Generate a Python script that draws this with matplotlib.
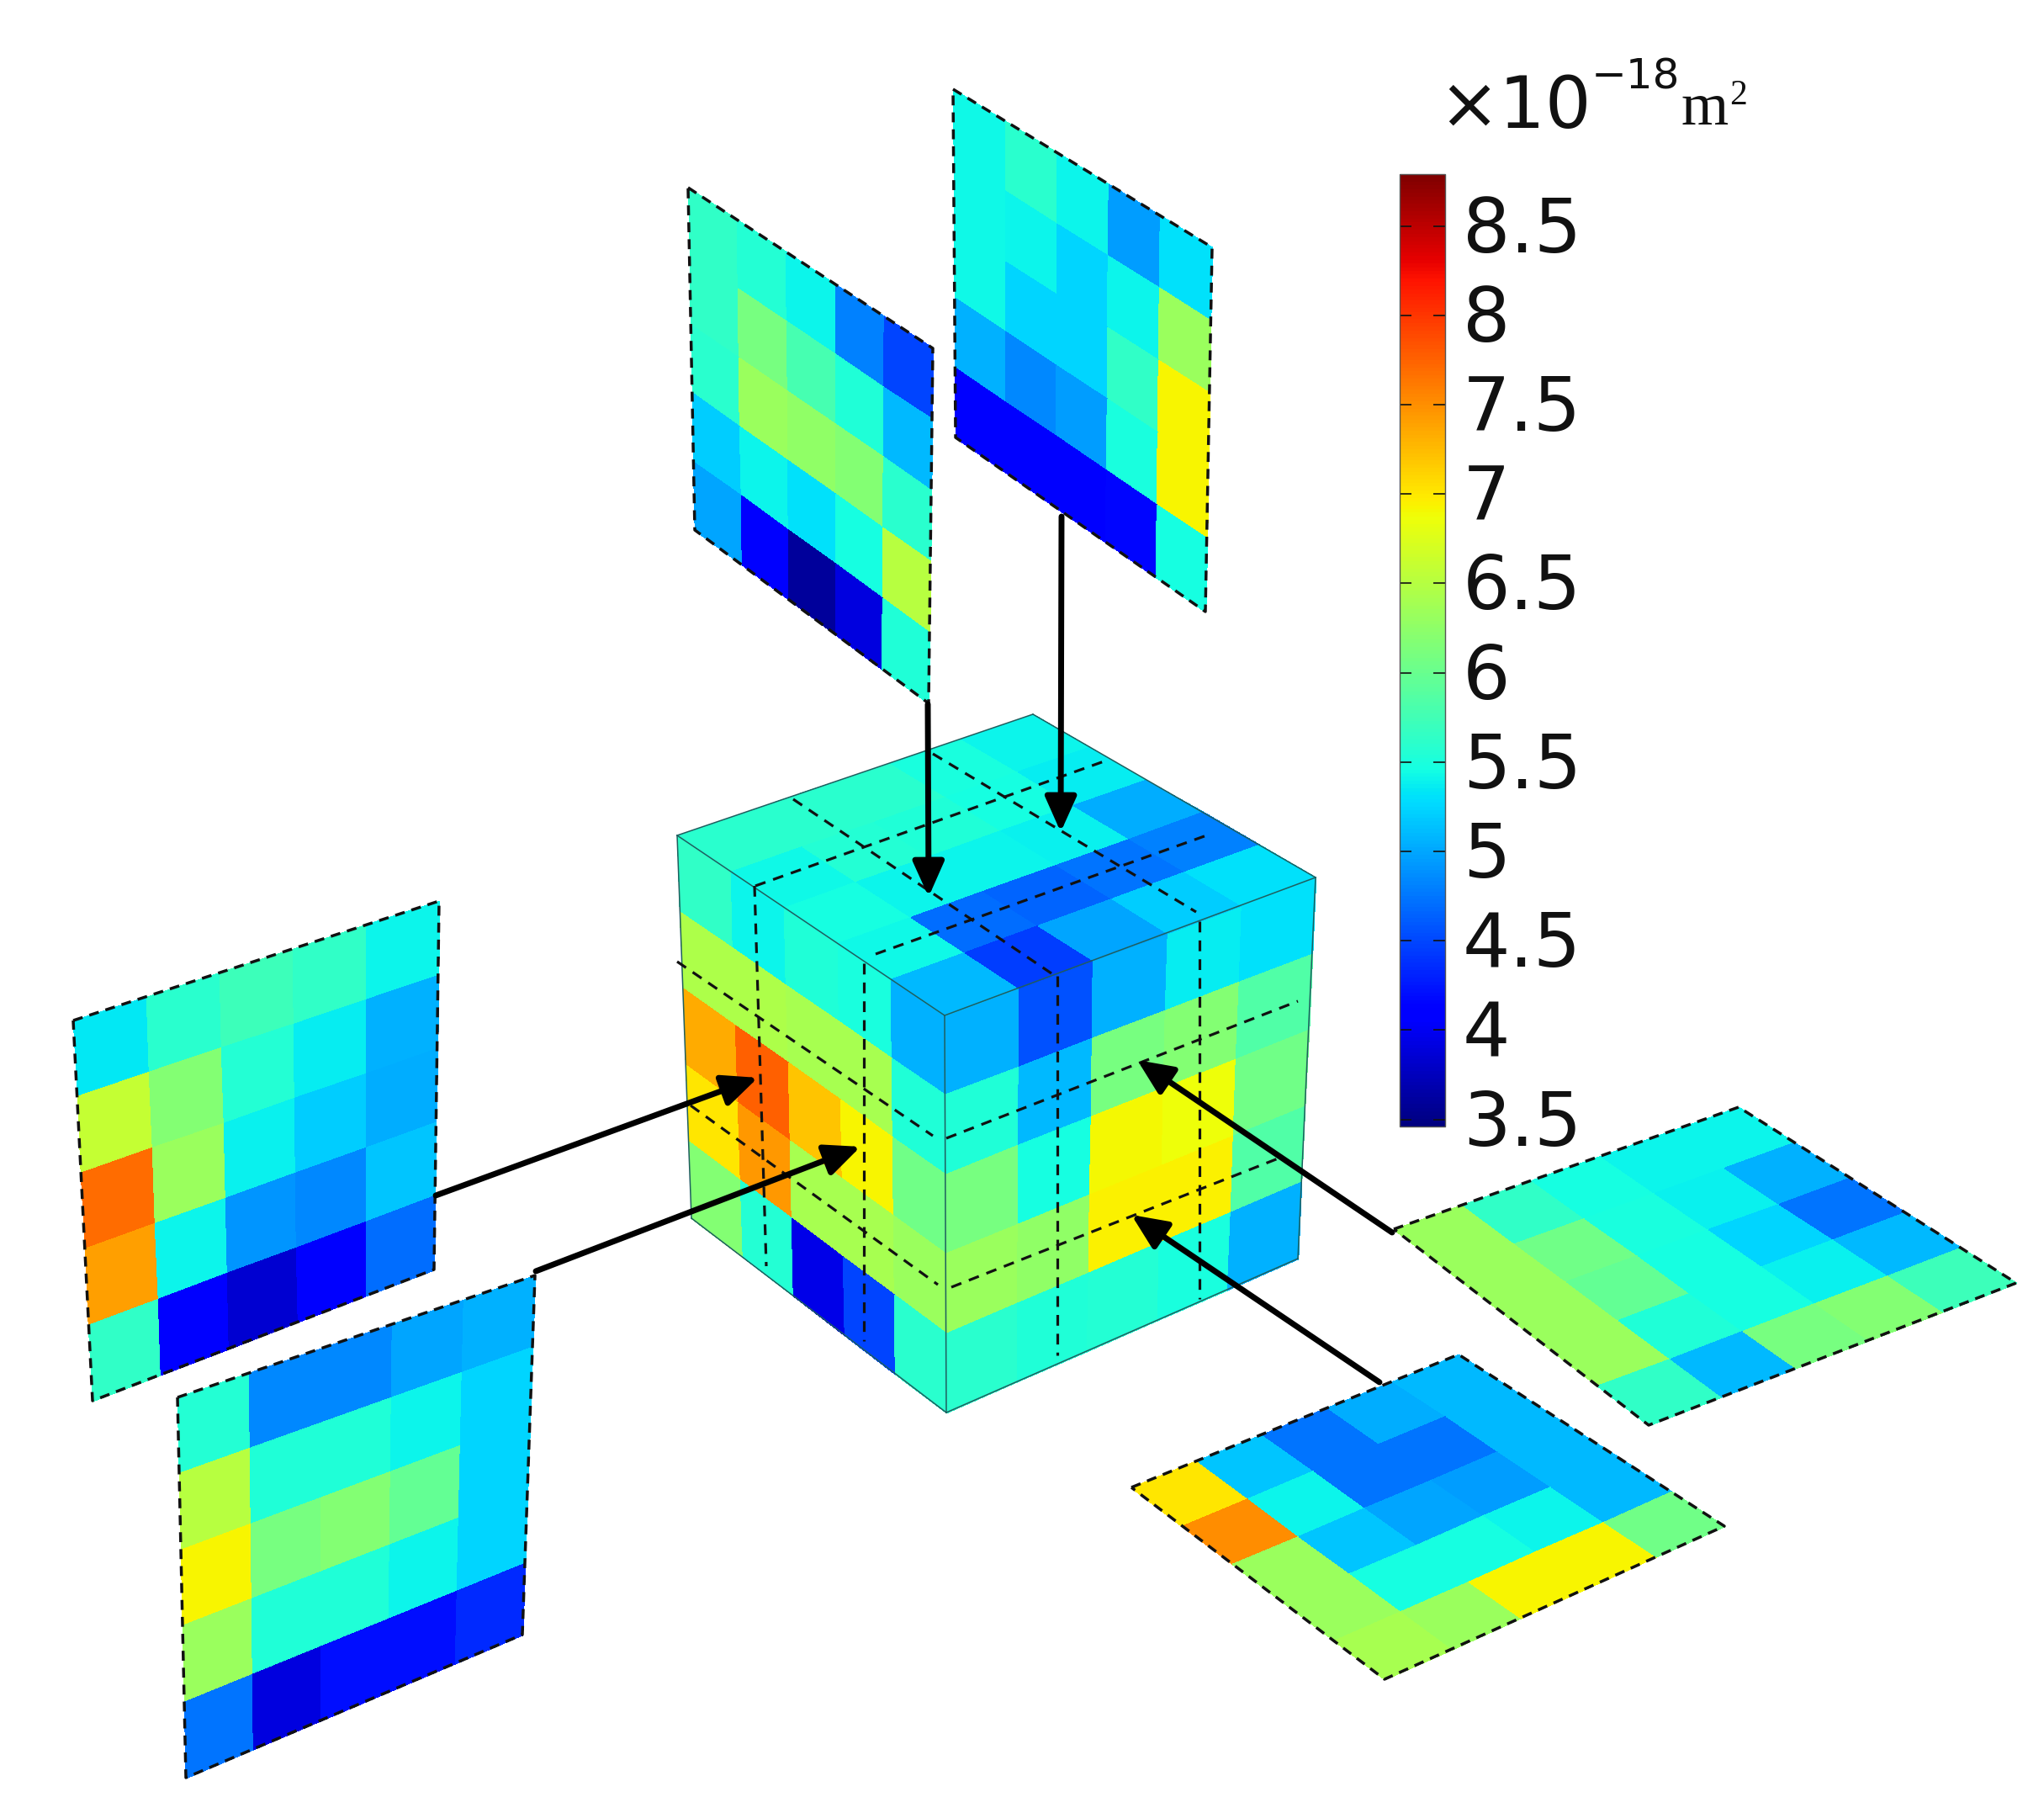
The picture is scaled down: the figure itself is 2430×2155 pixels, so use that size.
import numpy as np
import matplotlib
matplotlib.use("Agg")
import matplotlib.pyplot as plt
from matplotlib.colors import Normalize
from matplotlib.ticker import FormatStrFormatter
from matplotlib.transforms import ScaledTranslation

# ---- data (values x 1e-18 m^2), rows top-to-bottom, columns left-to-right ----
slice_upper_a = [[5.63, 5.56, 5.4, 4.8, 4.5],
                 [5.63, 6.1, 5.78, 5.53, 5.1],
                 [5.6, 6.33, 6.27, 6.17, 5.6],
                 [5.2, 5.4, 5.3, 5.47, 6.5],
                 [5.0, 4.1, 3.6, 3.9, 5.53]]
slice_upper_b = [[5.43, 5.6, 5.4, 4.95, 5.3],
                 [5.43, 5.4, 5.25, 5.4, 6.33],
                 [5.43, 5.25, 5.25, 5.63, 6.92],
                 [5.06, 4.85, 4.95, 5.5, 6.92],
                 [4.1, 4.1, 4.05, 4.15, 5.47]]
slice_left_a = [[5.35, 5.6, 5.71, 5.63, 5.4],
                [6.6, 6.17, 5.56, 5.36, 5.06],
                [7.7, 6.33, 5.38, 5.2, 5.03],
                [7.4, 5.4, 4.9, 4.85, 5.15],
                [5.63, 4.1, 3.85, 4.05, 4.7]]
slice_left_b = [[5.56, 4.85, 4.85, 5.0, 5.06],
                [6.5, 5.53, 5.53, 5.4, 5.25],
                [6.92, 6.1, 6.17, 5.97, 5.25],
                [6.33, 5.53, 5.53, 5.4, 5.25],
                [4.75, 3.9, 4.2, 4.2, 4.35]]
slice_flat_a = [[7.02, 5.15, 4.75, 5.03, 5.1],
                [7.5, 5.4, 4.75, 4.75, 5.1],
                [6.33, 5.15, 5.0, 4.95, 5.1],
                [6.33, 5.47, 5.47, 5.4, 5.1],
                [6.4, 6.33, 6.92, 6.92, 6.05]]
slice_flat_b = [[6.33, 5.63, 5.47, 5.4, 5.4],
                [6.33, 6.05, 5.5, 5.38, 5.06],
                [6.33, 5.97, 5.47, 5.25, 4.75],
                [6.33, 5.53, 5.47, 5.38, 5.1],
                [5.63, 5.1, 6.1, 6.17, 5.71]]
cube_left = [[5.63, 5.4, 5.53, 5.5, 5.06],
             [6.45, 6.45, 6.4, 6.4, 5.53],
             [7.35, 7.75, 7.2, 6.92, 6.05],
             [7.0, 7.45, 6.4, 6.4, 6.33],
             [6.17, 5.56, 3.95, 4.5, 5.6]]
cube_right = [[5.06, 4.55, 5.06, 5.36, 5.3],
              [5.53, 5.1, 6.1, 6.17, 5.85],
              [6.1, 5.47, 6.9, 6.87, 6.05],
              [6.33, 6.27, 6.95, 6.95, 5.85],
              [5.6, 5.53, 5.56, 5.5, 5.06]]
cube_top = [[5.6, 5.6, 5.6, 5.5, 5.4],
            [5.43, 5.56, 5.53, 5.47, 5.36],
            [5.47, 5.4, 5.4, 5.38, 5.03],
            [5.43, 4.7, 4.65, 4.75, 4.8],
            [5.1, 4.45, 5.0, 5.2, 5.3]]
colorbar_ticks = [3.5, 4, 4.5, 5, 5.5, 6, 6.5, 7, 7.5, 8, 8.5]
value_min, value_max = 3.46, 8.79

W, H = 2430, 2155
fig = plt.figure(figsize=(W / 100, H / 100), dpi=100, facecolor="white")
ax = fig.add_axes([0, 0, 1, 1])
ax.set_xlim(0, W)
ax.set_ylim(H, 0)
ax.axis("off")
norm = Normalize(value_min, value_max)
cmap = "jet"


def face(values, p00, p0n, pm0, pmn, dashed=True):
    """Draw a value grid on the quad with corners row0/col0, row0/colN, rowM/col0, rowM/colN."""
    values = np.asarray(values, float)
    m, n = values.shape
    s = np.linspace(0, 1, m + 1)[:, None]
    t = np.linspace(0, 1, n + 1)[None, :]
    p00, p0n, pm0, pmn = [np.array(p, float) for p in (p00, p0n, pm0, pmn)]
    X = (1 - s) * ((1 - t) * p00[0] + t * p0n[0]) + s * ((1 - t) * pm0[0] + t * pmn[0])
    Y = (1 - s) * ((1 - t) * p00[1] + t * p0n[1]) + s * ((1 - t) * pm0[1] + t * pmn[1])
    mesh = ax.pcolormesh(X, Y, values, cmap=cmap, norm=norm, shading="flat",
                         edgecolors="face", linewidth=0.4, zorder=2)
    if dashed:
        px = [p00[0], p0n[0], pmn[0], pm0[0], p00[0]]
        py = [p00[1], p0n[1], pmn[1], pm0[1], p00[1]]
        ax.plot(px, py, color="#111111", lw=2.5, dashes=(3.4, 2.4), zorder=3)
    return mesh


# floating slices
mesh = face(slice_upper_a, (818, 223), (1109, 414), (826, 630), (1104, 836))
face(slice_upper_b, (1133, 106), (1441, 294), (1136, 520), (1433, 727))
face(slice_left_a, (87, 1213), (522, 1071), (110, 1665), (516, 1509))
face(slice_left_b, (211, 1661), (636, 1516), (221, 2113), (621, 1943))
face(slice_flat_a, (1345, 1768), (1734, 1610), (1646, 1996), (2050, 1814))
face(slice_flat_b, (1657, 1461), (2067, 1316), (1960, 1694), (2397, 1525))

# cube
L, B, R, F = (805, 993), (1228, 849), (1564, 1043), (1123, 1207)
BL, BF, BR = (822, 1448), (1125, 1679), (1543, 1496)
face(cube_left, L, F, BL, BF, dashed=False)
face(cube_right, F, R, BF, BR, dashed=False)
face(cube_top, L, B, F, R, dashed=False)
edge_color = "#1f5f5f"
for a, b in [(L, F), (F, R), (F, BF), (L, B), (B, R), (R, BR), (BR, BF), (BF, BL), (BL, L)]:
    ax.plot([a[0], b[0]], [a[1], b[1]], color=edge_color, lw=1.1, zorder=4)

# section lines on the cube
cube_sections = [((898, 1053), (1318, 903)), ((1041, 1134), (1440, 991)),
                 ((943, 950), (1250, 1157)), ((1109, 896), (1422, 1084)),
                 ((897, 1053), (911, 1505)), ((1027, 1145), (1027, 1594)),
                 ((1257, 1160), (1257, 1611)), ((1426, 1095), (1426, 1544)),
                 ((805, 1143), (1109, 1350)), ((821, 1314), (1115, 1527)),
                 ((1125, 1353), (1543, 1190)), ((1131, 1530), (1522, 1376))]
for a, b in cube_sections:
    ax.plot([a[0], b[0]], [a[1], b[1]], color="#111111", lw=2.3, dashes=(4, 3), zorder=5)

# arrows
arrows = [((1103, 837), (1104, 1066)), ((1262, 614), (1261, 989)),
          ((518, 1421), (901, 1281)), ((637, 1511), (1023, 1363)),
          ((1655, 1465), (1352, 1260)), ((1640, 1643), (1345, 1444))]
for start, tip in arrows:
    ax.annotate("", xy=tip, xytext=start, zorder=6,
                arrowprops=dict(arrowstyle="-|>,head_length=0.85,head_width=0.38",
                                mutation_scale=30, lw=5.0, color="black",
                                shrinkA=0, shrinkB=0))

# colour bar
cax = fig.add_axes([1664 / W, 1 - 1339 / H, 54 / W, 1132 / H])
cb = fig.colorbar(mesh, cax=cax, ticks=colorbar_ticks)
cb.ax.yaxis.set_major_formatter(FormatStrFormatter("%g"))
cb.ax.tick_params(direction="in", length=10, width=1.2, left=True, right=True,
                  labelsize=64, pad=15, colors="#111111")
shift_up = ScaledTranslation(0, 3 / 100, fig.dpi_scale_trans)
for lab in cb.ax.get_yticklabels():
    lab.set_transform(lab.get_transform() + shift_up)
cb.outline.set_linewidth(1.0)
cb.outline.set_edgecolor("#555555")

# unit label
ax.text(1710, 152, "\u00d710", fontsize=62, family="DejaVu Sans", color="#111111", va="baseline", ha="left")
ax.text(1892, 106, "\u221218", fontsize=36, family="DejaVu Sans", color="#111111", va="baseline", ha="left")
ax.text(1998, 148, "m", fontsize=52, family="Liberation Serif", color="#111111", va="baseline", ha="left")
ax.text(2056, 124, "2", fontsize=30, family="Liberation Serif", color="#111111", va="baseline", ha="left")

fig.savefig("out.png", dpi=100, facecolor="white")
